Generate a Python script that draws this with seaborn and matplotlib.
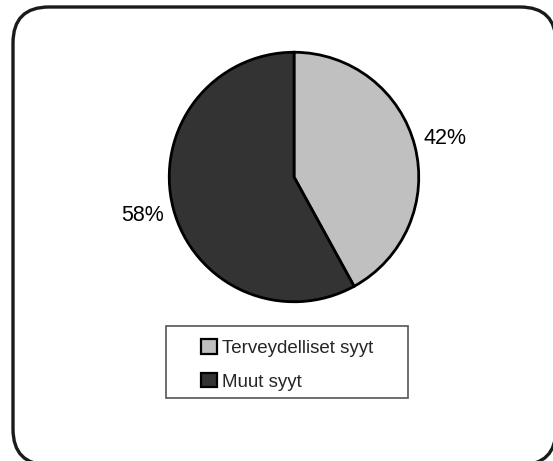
import matplotlib
matplotlib.use("Agg")
import matplotlib.pyplot as plt
from matplotlib.patches import FancyBboxPatch, Rectangle, Patch
import seaborn as sns

categories = ["Terveydelliset syyt", "Muut syyt"]
shares = [42, 58]
colors = ["#c0c0c0", "#333333"]

sns.set_style("white")
plt.rcParams["font.family"] = ["Liberation Sans", "DejaVu Sans"]

W, H = 553, 461
fig = plt.figure(figsize=(W / 100, H / 100), dpi=100)
fig.patch.set_facecolor("white")

# full-figure canvas in pixel units for the outer frame and legend box
bg = fig.add_axes([0, 0, 1, 1], zorder=-1)
bg.set_xlim(0, W)
bg.set_ylim(H, 0)
bg.axis("off")
bg.add_patch(FancyBboxPatch((13, 7), 543, 458,
                            boxstyle="round,pad=0,rounding_size=36",
                            facecolor="white", edgecolor="#1a1a1a",
                            linewidth=2.4))
bg.add_patch(Rectangle((166, 326), 242, 72, facecolor="white",
                       edgecolor="#555555", linewidth=1.2))

cx, cy, r = 294, H - 177, 126
ax = fig.add_axes([(cx - r) / W, (cy - r) / H, 2 * r / W, 2 * r / H])
ax.pie(shares, colors=colors, startangle=90, counterclock=False,
       autopct="%d%%", pctdistance=1.25,
       wedgeprops=dict(edgecolor="black", linewidth=2),
       textprops=dict(fontsize=15.5, color="black"))
ax.set_xlim(-1.01, 1.01)
ax.set_ylim(-1.01, 1.01)
ax.set_aspect("equal")
ax.axis("off")

handles = [Patch(facecolor=c, edgecolor="black", linewidth=1.6) for c in colors]
leg = fig.legend(handles, categories, loc="upper left",
                 bbox_to_anchor=(195 / W, 1 - 333 / H),
                 frameon=False, fontsize=13.5, handlelength=0.85, handleheight=0.85,
                 handletextpad=0.3, borderpad=0.3, labelspacing=0.85,
                 borderaxespad=0)

fig.savefig("out.png", dpi=100, facecolor="white")
